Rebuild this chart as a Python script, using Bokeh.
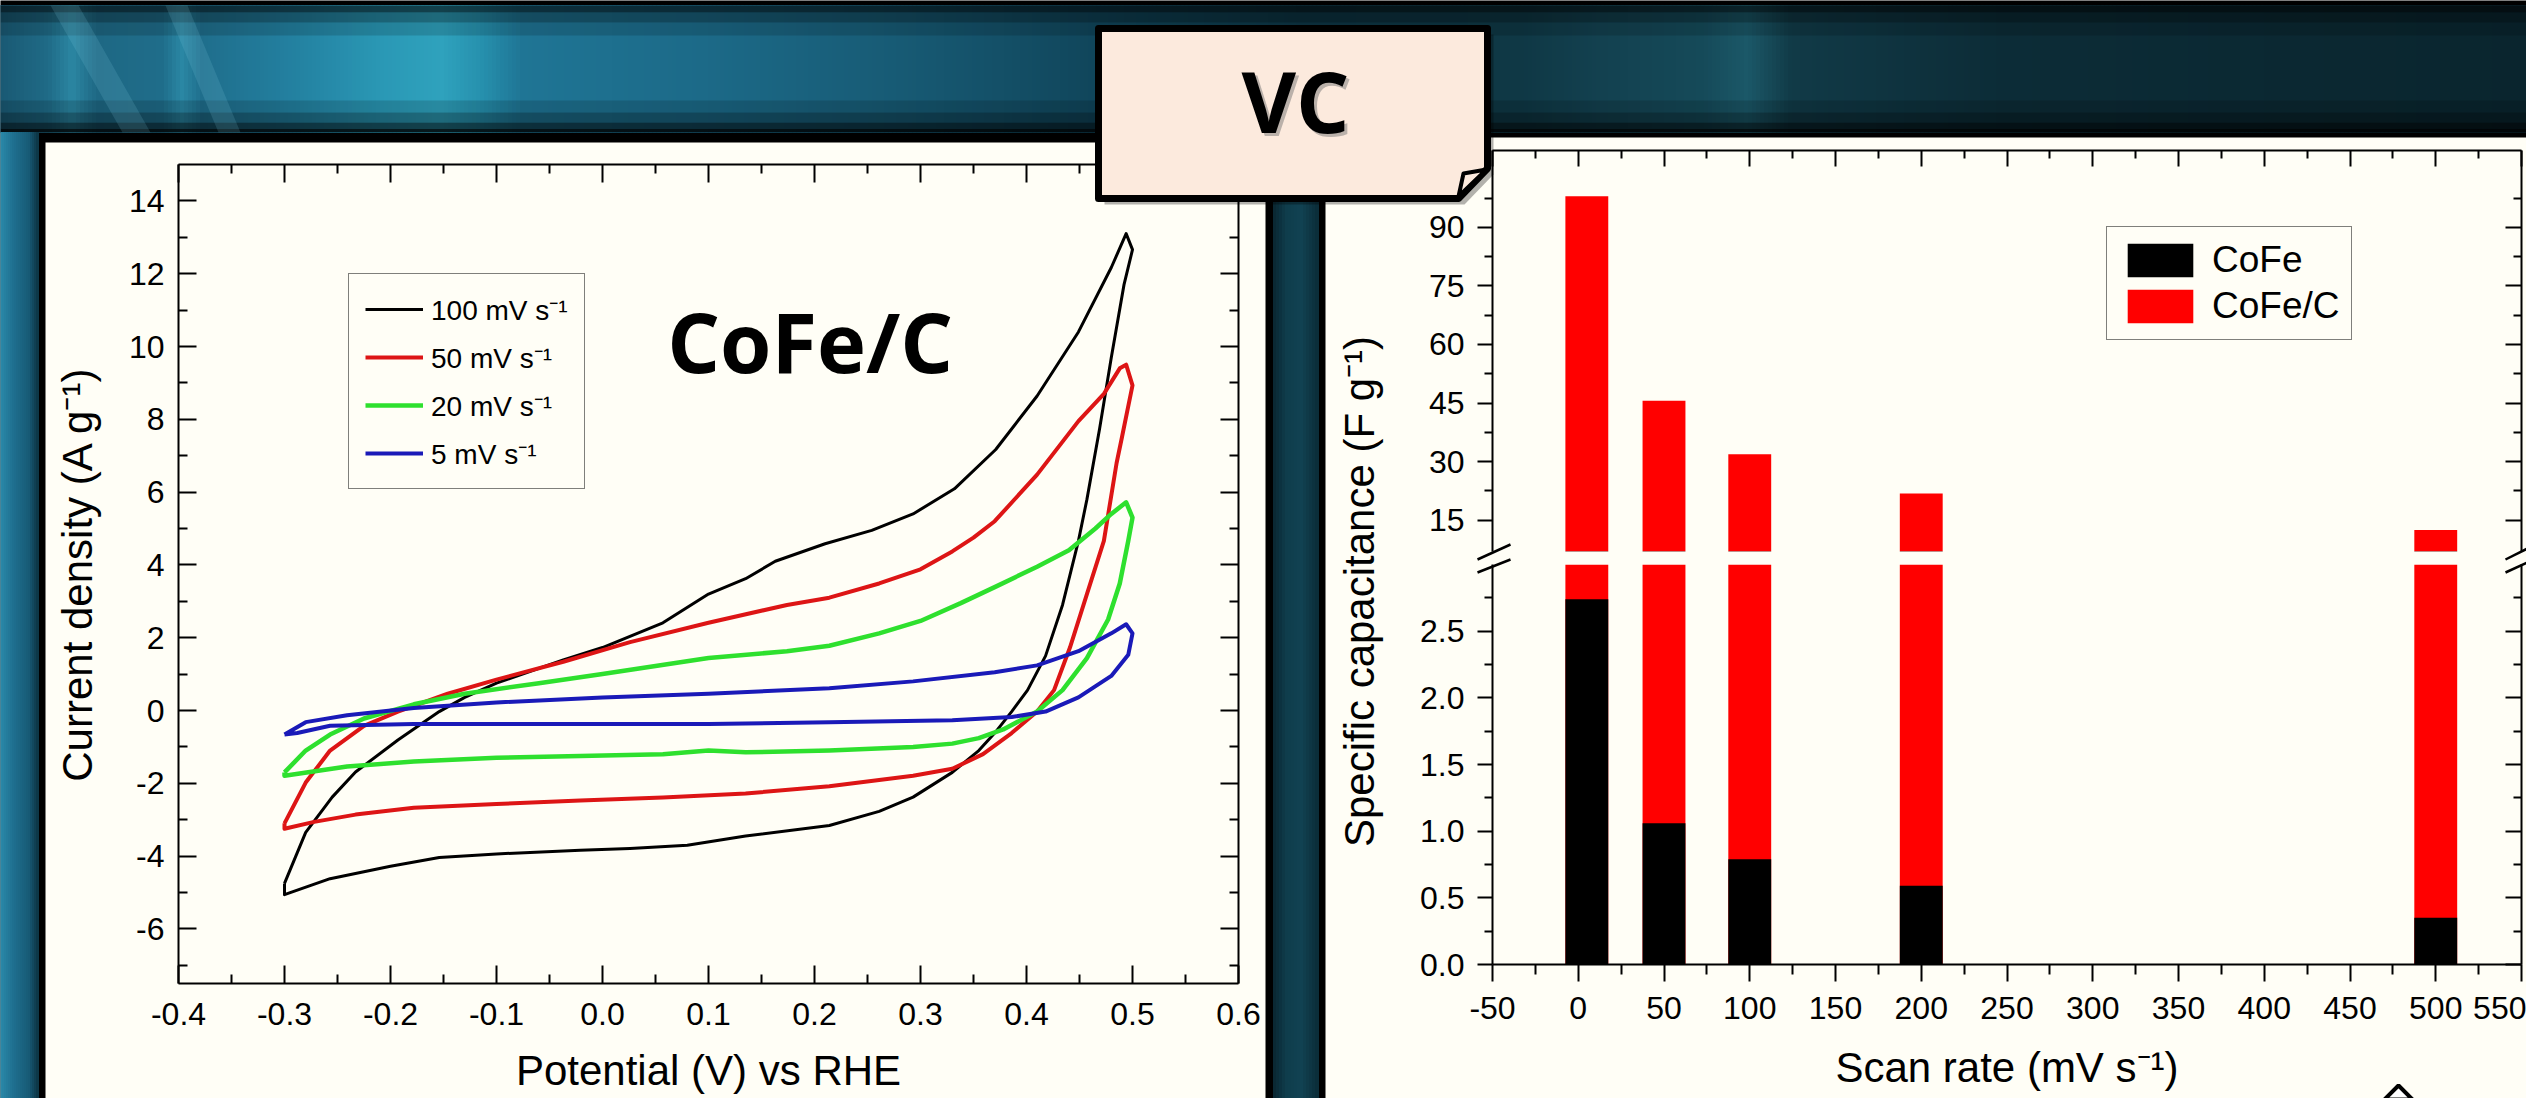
import numpy as np
from bokeh.plotting import figure
from bokeh.models import (Range1d, LinearAxis, FixedTicker, NumeralTickFormatter,
                          Legend, LegendItem, Label)
from bokeh.layouts import column
from bokeh.embed import file_html
from bokeh.resources import INLINE
from bokeh.core.properties import value

# ---------------- data: cyclic voltammograms of CoFe/C ----------------
cv_labels = ["100 mV s⁻¹", "50 mV s⁻¹", "20 mV s⁻¹", "5 mV s⁻¹"]

pot_100 = [-0.300, -0.280, -0.255, -0.233, -0.193, -0.154, -0.130, -0.100, -0.037, 0.000, 0.057, 0.100,
           0.135, 0.163, 0.210, 0.254, 0.293, 0.332, 0.371, 0.410, 0.449, 0.480, 0.494,
           0.500, 0.492, 0.480, 0.469, 0.457, 0.449, 0.434, 0.418, 0.401, 0.386, 0.370, 0.355, 0.330,
           0.293, 0.261, 0.214, 0.135, 0.080, 0.026, -0.021, -0.100, -0.154, -0.200, -0.257, -0.300, -0.300]
cur_100 = [-4.75, -3.35, -2.38, -1.69, -0.81, -0.03, 0.36, 0.75, 1.39, 1.73, 2.41, 3.20,
           3.62, 4.10, 4.58, 4.95, 5.40, 6.09, 7.17, 8.64, 10.40, 12.17, 13.10,
           12.66, 11.70, 9.70, 7.75, 5.80, 4.66, 2.90, 1.50, 0.56, -0.03, -0.62, -1.10, -1.70,
           -2.38, -2.77, -3.16, -3.45, -3.70, -3.79, -3.84, -3.94, -4.04, -4.28, -4.62, -5.06, -4.75]

pot_50 = [-0.300, -0.280, -0.257, -0.225, -0.193, -0.146, -0.100, -0.037, 0.026, 0.100, 0.174, 0.214,
          0.261, 0.300, 0.330, 0.350, 0.370, 0.410, 0.449, 0.473, 0.488, 0.494,
          0.500, 0.490, 0.485, 0.473, 0.457, 0.441, 0.426, 0.410, 0.386, 0.359, 0.330, 0.293,
          0.214, 0.135, 0.057, -0.021, -0.100, -0.178, -0.233, -0.272, -0.300, -0.300]
cur_50 = [-3.10, -1.98, -1.10, -0.42, -0.03, 0.46, 0.85, 1.34, 1.88, 2.41, 2.90, 3.10,
          3.49, 3.88, 4.37, 4.75, 5.20, 6.48, 7.95, 8.70, 9.40, 9.50,
          8.93, 7.50, 6.80, 4.66, 3.20, 1.73, 0.56, -0.03, -0.62, -1.20, -1.60, -1.79,
          -2.08, -2.28, -2.39, -2.47, -2.57, -2.67, -2.86, -3.06, -3.25, -3.10]

pot_20 = [-0.300, -0.280, -0.257, -0.225, -0.178, -0.130, -0.060, 0.000, 0.100, 0.174, 0.214, 0.261,
          0.300, 0.338, 0.370, 0.410, 0.440, 0.465, 0.480, 0.494,
          0.500, 0.496, 0.488, 0.477, 0.457, 0.434, 0.410, 0.378, 0.355, 0.330, 0.293, 0.214,
          0.135, 0.100, 0.057, -0.021, -0.100, -0.178, -0.241, -0.300, -0.300]
cur_20 = [-1.70, -1.10, -0.66, -0.22, 0.17, 0.46, 0.75, 1.00, 1.44, 1.63, 1.78, 2.12,
          2.46, 2.95, 3.39, 3.95, 4.40, 5.00, 5.40, 5.72,
          5.30, 4.66, 3.49, 2.50, 1.44, 0.56, -0.03, -0.52, -0.76, -0.91, -1.00, -1.10,
          -1.15, -1.10, -1.20, -1.25, -1.30, -1.40, -1.54, -1.79, -1.70]

pot_5 = [-0.300, -0.280, -0.241, -0.178, -0.100, 0.000, 0.100, 0.214, 0.293, 0.370, 0.410, 0.449,
         0.480, 0.494,
         0.500, 0.496, 0.480, 0.449, 0.418, 0.386, 0.330, 0.214, 0.100, 0.000, -0.100, -0.178,
         -0.257, -0.288, -0.300, -0.300]
cur_5 = [-0.66, -0.32, -0.13, 0.07, 0.22, 0.36, 0.46, 0.61, 0.80, 1.05, 1.24, 1.63,
         2.12, 2.37,
         2.12, 1.53, 0.95, 0.36, -0.03, -0.18, -0.27, -0.32, -0.37, -0.37, -0.37, -0.37,
         -0.42, -0.62, -0.66, -0.66]

cv_x_ticks = [-0.4, -0.3, -0.2, -0.1, 0.0, 0.1, 0.2, 0.3, 0.4, 0.5, 0.6]
cv_x_minor = [-0.35, -0.25, -0.15, -0.05, 0.05, 0.15, 0.25, 0.35, 0.45, 0.55]
cv_y_ticks = [-6, -4, -2, 0, 2, 4, 6, 8, 10, 12, 14]
cv_y_minor = [-7, -5, -3, -1, 1, 3, 5, 7, 9, 11, 13]

# ---------------- data: specific capacitance vs scan rate ----------------
bar_labels = ["CoFe", "CoFe/C"]
scan_rate = [5, 50, 100, 200, 500]
cap_cofe = [2.74, 1.06, 0.79, 0.59, 0.35]
cap_cofec = [98.0, 45.6, 31.9, 21.8, 12.5]

rate_ticks = [-50, 0, 50, 100, 150, 200, 250, 300, 350, 400, 450, 500, 550]
rate_minor = [-25, 25, 75, 125, 175, 225, 275, 325, 375, 425, 475, 525]
cap_top_ticks = [15, 30, 45, 60, 75, 90]
cap_top_minor = [22.5, 37.5, 52.5, 67.5, 82.5, 97.5]
cap_bot_ticks = [0.0, 0.5, 1.0, 1.5, 2.0, 2.5]
cap_bot_minor = [0.25, 0.75, 1.25, 1.75, 2.25, 2.75]

# ---------------- page geometry / style ----------------
W, H = 2526, 1098
CREAM = "#FFFEF6"
FONT = "Liberation Sans"


def Y(y):
    return H - y


def hexrgb(h):
    h = h.lstrip("#")
    return np.array([int(h[i:i + 2], 16) for i in (0, 2, 4)], dtype=float)


def gradient(stops, xs):
    px = [s[0] for s in stops]
    cs = np.array([hexrgb(s[1]) for s in stops])
    out = []
    for x in xs:
        rgb = [np.interp(x, px, cs[:, k]) for k in range(3)]
        out.append("#%02x%02x%02x" % tuple(int(round(c)) for c in rgb))
    return out


def no_align(f):
    try:
        f.frame_align = False
    except Exception:
        pass


# ---------------- background slide ----------------
bg = figure(width=W, height=H, x_range=Range1d(0, W), y_range=Range1d(0, H),
            x_axis_type=None, y_axis_type=None, min_border=0,
            output_backend="svg", toolbar_location=None)
bg.grid.visible = False
bg.outline_line_color = None
bg.background_fill_color = "black"
bg.border_fill_color = "black"

band_stops = [(0, "#1a5a74"), (45, "#1f6a86"), (70, "#2b86a2"), (95, "#1e6884"), (160, "#1f6d8a"),
              (180, "#2a87a4"), (200, "#1f6e8c"), (290, "#2380a0"), (380, "#2a98b5"), (440, "#2fa2bd"),
              (480, "#2690ad"), (520, "#1f7595"), (700, "#1c6a88"), (900, "#175a74"), (1100, "#10455a"),
              (1300, "#0d3645"), (1520, "#0f3845"), (1600, "#134150"), (1700, "#154a59"),
              (1745, "#1b5868"), (1790, "#113a47"), (2000, "#0c2c37"), (2526, "#0a252e")]
bx = np.arange(0, W, 4)
bcol = gradient(band_stops, bx)
bg.quad(left=bx, right=bx + 4, bottom=Y(132), top=Y(5), fill_color=bcol, line_color=bcol, line_width=1)
for (y0, y1, a) in [(5, 12, 0.6), (12, 22, 0.35), (22, 35, 0.15), (100, 112, 0.15),
                    (112, 122, 0.35), (122, 128, 0.6), (128, 132, 0.85)]:
    bg.quad(left=0, right=W, bottom=Y(y1), top=Y(y0), fill_color="black", fill_alpha=a, line_color=None)
bg.patches(xs=[[50, 78, 150, 122], [165, 187, 240, 218]],
           ys=[[Y(5), Y(5), Y(132), Y(132)], [Y(5), Y(5), Y(132), Y(132)]],
           fill_color="#8fd6ea", fill_alpha=0.15, line_color=None)

# left strip
lx = np.arange(0, 38, 2)
lcol = gradient([(0, "#2a88a8"), (12, "#1f7090"), (28, "#175a75"), (38, "#0b2f3d")], lx)
bg.quad(left=lx, right=lx + 2, bottom=0, top=Y(132), fill_color=lcol, line_color=lcol)
# middle bar
mx = np.arange(1273, 1318, 3)
mcol = gradient([(1273, "#0a2833"), (1285, "#0f3d4c"), (1300, "#114252"), (1318, "#0a2a35")], mx)
bg.quad(left=mx, right=mx + 3, bottom=0, top=Y(140), fill_color=mcol, line_color=mcol)
# cream panels
bg.quad(left=[45, 1325], right=[1265, W], bottom=[0, 0], top=[Y(142), Y(137)],
        fill_color=CREAM, line_color=None)


# ---------------- helpers ----------------
def make_fig(w, h, xr, yr, mb, x_loc="below"):
    f = figure(width=w, height=h, x_range=xr, y_range=yr, output_backend="svg",
               toolbar_location=None, min_border_left=mb[0], min_border_right=mb[1],
               min_border_top=mb[2], min_border_bottom=mb[3], x_axis_location=x_loc)
    f.background_fill_alpha = 0
    f.border_fill_alpha = 0
    f.outline_line_color = None
    f.grid.visible = False
    return f


def style_axis(ax, ticks, minor, fmt, tin, tout, mtin, mtout, show=True, size="32px", standoff=14):
    ax.ticker = FixedTicker(ticks=ticks, minor_ticks=minor)
    ax.formatter = NumeralTickFormatter(format=fmt)
    ax.axis_line_width = 2
    ax.axis_line_color = "black"
    ax.major_tick_line_width = 2
    ax.minor_tick_line_width = 2
    ax.major_tick_line_color = "black"
    ax.minor_tick_line_color = "black"
    ax.major_tick_in = tin
    ax.major_tick_out = tout
    ax.minor_tick_in = mtin
    ax.minor_tick_out = mtout
    if show:
        ax.major_label_text_font = FONT
        ax.major_label_text_font_size = size
        ax.major_label_text_color = "black"
        ax.major_label_standoff = standoff
    else:
        ax.major_label_text_font_size = "1px"
        ax.major_label_text_color = None
        ax.major_label_standoff = 0


def style_title(ax, text, standoff):
    ax.axis_label = text
    ax.axis_label_text_font = FONT
    ax.axis_label_text_font_size = "42px"
    ax.axis_label_text_font_style = "normal"
    ax.axis_label_text_color = "black"
    ax.axis_label_standoff = standoff


# ---------------- left chart: CV curves ----------------
# frame: x 178..1238, y 164..983 (page pixels)
lf = make_fig(1220, 991, Range1d(-0.4, 0.6), Range1d(-7.5, 15.0), (133, 27, 22, 150))
lf.add_layout(LinearAxis(), "above")
lf.add_layout(LinearAxis(), "right")
style_axis(lf.below[0], cv_x_ticks, cv_x_minor, "0.0", 18, 0, 9, 0, size="32px", standoff=19)
style_axis(lf.above[0], cv_x_ticks, cv_x_minor, "0.0", 18, 0, 9, 0, show=False)
style_axis(lf.left[0], cv_y_ticks, cv_y_minor, "0", 18, 0, 9, 0, size="32px", standoff=14)
style_axis(lf.right[0], cv_y_ticks, cv_y_minor, "0", 18, 0, 9, 0, show=False)
style_title(lf.below[0], "Potential (V) vs RHE", 19)
style_title(lf.left[0], "Current density (A g⁻¹)", 25)

cv_series = [(pot_100, cur_100, "#000000", 3), (pot_50, cur_50, "#dd1515", 4),
             (pot_20, cur_20, "#2ee02e", 4.5), (pot_5, cur_5, "#1a1ab8", 4)]
cv_items = []
for (px, py, col, lw), lab in zip(cv_series, cv_labels):
    r = lf.line(px, py, line_color=col, line_width=lw, line_join="round")
    cv_items.append(LegendItem(label=lab, renderers=[r]))

leg1 = Legend(items=cv_items, location=(170, 494), glyph_width=58, glyph_height=32, label_height=32,
              label_text_font=FONT, label_text_font_size="28px", label_text_color="black",
              spacing=10, padding=16, margin=0, label_standoff=8,
              border_line_color="black", border_line_width=1.5,
              background_fill_color=CREAM, background_fill_alpha=1)
lf.add_layout(leg1)
lf.add_layout(Label(x=0.061, y=10.17, text="CoFe/C", text_font="Open Sans", text_font_style="bold",
                    text_font_size="83px", text_color="black", text_baseline="alphabetic"))

# ---------------- right chart: broken y axis (two segments) ----------------
# top segment frame: x 1492..2521, y 150..551 ; bottom segment frame: y 564..964
rt = make_fig(1201, 428, Range1d(-50, 550), Range1d(6.96, 109.7), (167, 5, 21, 6), x_loc="above")
rt.add_layout(LinearAxis(), "right")
style_axis(rt.above[0], rate_ticks, rate_minor, "0", 16, 0, 8, 0, show=False)
style_axis(rt.left[0], cap_top_ticks, cap_top_minor, "0", 0, 15, 0, 8, size="32px", standoff=13)
style_axis(rt.right[0], cap_top_ticks, cap_top_minor, "0", 16, 0, 8, 0, show=False)

rb = make_fig(1201, 567, rt.x_range, Range1d(0, 3.0), (167, 5, 7, 160))
rb.add_layout(LinearAxis(), "right")
style_axis(rb.below[0], rate_ticks, rate_minor, "0", 0, 17, 0, 10, size="32px", standoff=15)
style_axis(rb.left[0], cap_bot_ticks, cap_bot_minor, "0.0", 0, 15, 0, 8, size="32px", standoff=13)
style_axis(rb.right[0], cap_bot_ticks, cap_bot_minor, "0.0", 16, 0, 8, 0, show=False)
style_title(rb.below[0], "Scan rate (mV s⁻¹)", 22)

bar_items = []
for f in (rt, rb):
    r_red = f.vbar(x=scan_rate, width=25, bottom=0, top=cap_cofec, fill_color="#FF0000", line_color=None)
    r_blk = f.vbar(x=scan_rate, width=25, bottom=0, top=cap_cofe, fill_color="#000000", line_color=None)
    if f is rt:
        bar_items = [LegendItem(label=bar_labels[0], renderers=[r_blk]),
                     LegendItem(label=bar_labels[1], renderers=[r_red])]

leg2 = Legend(items=bar_items, location=(614, 211), glyph_width=82, glyph_height=42, label_height=42,
              label_text_font=FONT, label_text_font_size="37px", label_text_color="black",
              spacing=4, padding=12, margin=0, label_standoff=11,
              border_line_color="black", border_line_width=1.5,
              background_fill_color=CREAM, background_fill_alpha=1)
rt.add_layout(leg2)

# ---------------- overlay: callout, axis-break marks, shared y title ----------------
ov = figure(width=W, height=H, x_range=Range1d(0, W), y_range=Range1d(0, H),
            x_axis_type=None, y_axis_type=None, min_border=0,
            output_backend="svg", toolbar_location=None)
ov.grid.visible = False
ov.outline_line_color = None
ov.background_fill_alpha = 0
ov.border_fill_alpha = 0

cx = [1098, 1487, 1487, 1458, 1098]
cy = [Y(28), Y(28), Y(168), Y(198), Y(198)]
ov.patch([x + 6 for x in cx], [y - 6 for y in cy], fill_color="black", fill_alpha=0.3, line_color=None)
ov.patch(cx, cy, fill_color="#FCEADD", line_color="black", line_width=7, line_join="round")
ov.patch([1458, 1463, 1486], [Y(196), Y(173), Y(169)], fill_color="#FCEADD", line_color="black",
         line_width=4, line_join="round")
ov.text(x=[1298], y=[Y(103)], text=["VC"], text_font=value("Open Sans"), text_font_style="bold",
        text_font_size="84px", text_align="center", text_baseline="middle", text_color="#777777",
        text_alpha=0.5)
ov.text(x=[1295], y=[Y(100)], text=["VC"], text_font=value("Open Sans"), text_font_style="bold",
        text_font_size="84px", text_align="center", text_baseline="middle", text_color="black")

ov.segment(x0=[1477, 1477, 2505, 2505], y0=[Y(559), Y(572), Y(559), Y(572)],
           x1=[1510, 1510, 2527, 2527], y1=[Y(544), Y(559), Y(548), Y(562)],
           line_color="black", line_width=2.5)
ov.text(x=[1359], y=[Y(591)], text=["Specific capacitance (F g⁻¹)"], angle=np.pi / 2,
        text_font=value(FONT), text_font_size="42px", text_align="center", text_baseline="middle",
        text_color="black")
ov.patch([2384, 2398, 2412], [Y(1099), Y(1085), Y(1099)], fill_color="white", line_color="black",
         line_width=4)

# ---------------- composition ----------------
for f, (l, t) in [(bg, (0, 0)), (lf, (45, 142)), (rt, (1325, 129)), (rb, (1325, 557)), (ov, (0, 0))]:
    no_align(f)
    f.styles = {"position": "absolute", "left": f"{l}px", "top": f"{t}px"}

root = column(bg, lf, rt, rb, ov, width=W, height=H,
              styles={"position": "relative", "overflow": "hidden"})

with open("out.html", "w", encoding="utf-8") as fh:
    fh.write(file_html(root, INLINE))
